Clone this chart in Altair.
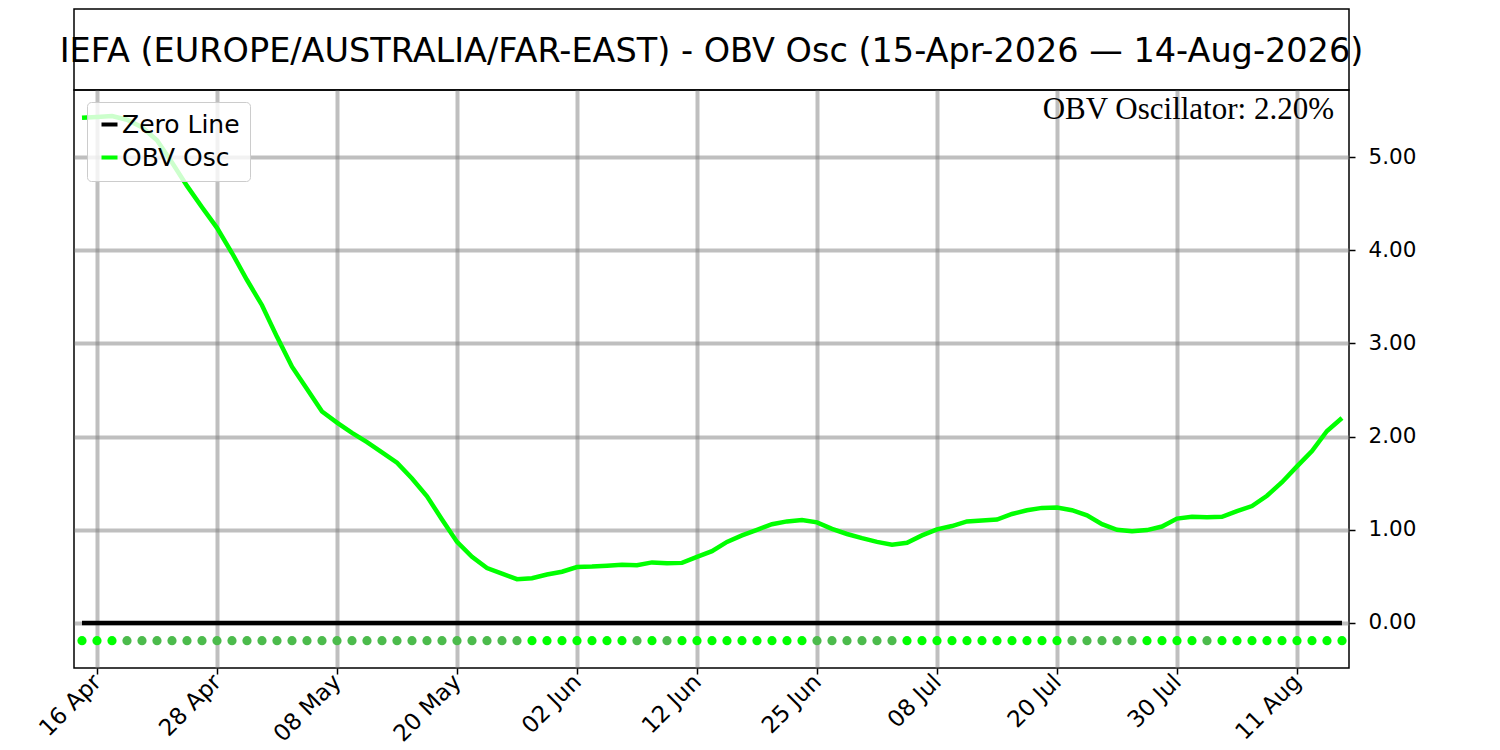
import altair as alt
import pandas as pd

# ---- data ----
dates = [
    "15 Apr", "16 Apr", "17 Apr", "20 Apr", "21 Apr", "22 Apr", "23 Apr", "24 Apr", "27 Apr", "28 Apr",
    "29 Apr", "30 Apr", "01 May", "04 May", "05 May", "06 May", "07 May", "08 May", "11 May", "12 May",
    "13 May", "14 May", "15 May", "18 May", "19 May", "20 May", "21 May", "22 May", "26 May", "27 May",
    "28 May", "29 May", "01 Jun", "02 Jun", "03 Jun", "04 Jun", "05 Jun", "08 Jun", "09 Jun", "10 Jun",
    "11 Jun", "12 Jun", "15 Jun", "16 Jun", "17 Jun", "18 Jun", "22 Jun", "23 Jun", "24 Jun", "25 Jun",
    "26 Jun", "29 Jun", "30 Jun", "01 Jul", "02 Jul", "06 Jul", "07 Jul", "08 Jul", "09 Jul", "10 Jul",
    "13 Jul", "14 Jul", "15 Jul", "16 Jul", "17 Jul", "20 Jul", "21 Jul", "22 Jul", "23 Jul", "24 Jul",
    "27 Jul", "28 Jul", "29 Jul", "30 Jul", "31 Jul", "03 Aug", "04 Aug", "05 Aug", "06 Aug", "07 Aug",
    "10 Aug", "11 Aug", "12 Aug", "13 Aug", "14 Aug",
]

obv_osc = [
    5.42, 5.43, 5.44, 5.40, 5.32, 5.18, 4.94, 4.69, 4.46, 4.24,
    3.97, 3.68, 3.41, 3.07, 2.75, 2.51, 2.27, 2.15, 2.04, 1.94,
    1.83, 1.72, 1.55, 1.36, 1.11, 0.87, 0.71, 0.59, 0.53, 0.47,
    0.48, 0.52, 0.55, 0.60, 0.605, 0.615, 0.625, 0.62, 0.65, 0.64,
    0.645, 0.71, 0.77, 0.87, 0.94, 1.00, 1.06, 1.09, 1.105, 1.08,
    1.01, 0.955, 0.91, 0.87, 0.84, 0.86, 0.94, 1.005, 1.04, 1.09,
    1.10, 1.11, 1.17, 1.21, 1.235, 1.24, 1.21, 1.155, 1.06, 1.00,
    0.985, 0.997, 1.035, 1.12, 1.14, 1.135, 1.14, 1.20, 1.255, 1.365,
    1.51, 1.68, 1.845, 2.06, 2.20,
]

# 1 = bright green dot (rising), 0 = darker green dot (falling)
dot_up = [
    1, 1, 1, 0, 0, 0, 0, 0, 0, 0,
    0, 0, 0, 0, 0, 0, 0, 0, 0, 0,
    0, 0, 0, 0, 0, 0, 0, 0, 0, 0,
    1, 1, 1, 1, 1, 1, 1, 0, 1, 0,
    1, 1, 1, 1, 1, 1, 1, 1, 1, 0,
    0, 0, 0, 0, 0, 1, 1, 1, 1, 1,
    1, 1, 1, 1, 1, 1, 0, 0, 0, 0,
    0, 1, 1, 1, 1, 0, 1, 1, 1, 1,
    1, 1, 1, 1, 1,
]

tick_idx = [1, 9, 17, 25, 33, 41, 49, 57, 65, 73, 81]
y_ticks = [0, 1, 2, 3, 4, 5]
dot_level = -0.19
series_names = ["Zero Line", "OBV Osc"]
series_colors = ["black", "#00ff00"]
title_text = "IEFA (EUROPE/AUSTRALIA/FAR-EAST) - OBV Osc (15-Apr-2026 \u2014 14-Aug-2026)"

n = len(obv_osc)
idx = list(range(n))
lines_df = pd.concat([
    pd.DataFrame({"i": idx, "v": [0.0] * n, "series": series_names[0], "ord": 0}),
    pd.DataFrame({"i": idx, "v": obv_osc, "series": series_names[1], "ord": 1}),
])
dots_df = pd.DataFrame({"i": idx, "v": [dot_level] * n, "up": dot_up})

W, H = 1275, 578
TITLE_H = 81

xscale = alt.Scale(domain=[-0.533, 84.467], nice=False, zero=False)
yscale = alt.Scale(domain=[-0.483, 5.719], nice=False, zero=False)

label_expr = "[" + ",".join("'%s'" % d for d in dates) + "][datum.value]"

grid_kw = dict(grid=True, gridColor="#808080", gridOpacity=0.5, gridWidth=4)
x_axis = alt.Axis(values=tick_idx, labelExpr=label_expr, labelAngle=315, labelAlign="right",
                  labelBaseline="middle", labelFontSize=23, labelFont="DejaVu Sans",
                  labelColor="black", tickColor="black", tickSize=6, tickWidth=1.5,
                  domain=False, title=None, labelPadding=4, labelOverlap=False, **grid_kw)
y_axis = alt.Axis(orient="right", values=y_ticks, format=".2f", labelFontSize=21.5,
                  labelFont="DejaVu Sans", labelColor="black", tickColor="black", tickSize=6,
                  tickWidth=1.5, domain=False, title=None, labelPadding=13, **grid_kw)

legend = alt.Legend(title=None, orient="none", legendX=13, legendY=12 + TITLE_H, symbolType="stroke",
                    symbolStrokeWidth=4, symbolSize=256, labelFontSize=25, labelFont="DejaVu Sans",
                    labelColor="black", fillColor="rgba(255,255,255,0.8)", strokeColor="#cccccc",
                    cornerRadius=4, padding=10, rowPadding=7, labelOffset=0)

lines = alt.Chart(lines_df).mark_line(strokeWidth=4.5).encode(
    x=alt.X("i:Q", scale=xscale, axis=x_axis),
    y=alt.Y("v:Q", scale=yscale, axis=y_axis),
    color=alt.Color("series:N", scale=alt.Scale(domain=series_names, range=series_colors),
                    legend=legend, sort=series_names),
    order=alt.Order("ord:Q"),
)

dots = alt.Chart(dots_df).mark_circle(size=85, opacity=1).encode(
    x=alt.X("i:Q", scale=xscale, axis=x_axis),
    y=alt.Y("v:Q", scale=yscale, axis=y_axis),
    color=alt.when(alt.datum.up == 1).then(alt.value("#00ff00")).otherwise(alt.value("#4cbb4c")),
)

ann = alt.Chart(pd.DataFrame({"t": ["OBV Oscillator: %.2f%%" % obv_osc[-1]]})).mark_text(
    font="Liberation Serif", fontSize=31, align="right", baseline="alphabetic", color="black"
).encode(x=alt.value(1260), y=alt.value(29), text="t:N")

main = alt.layer(lines, dots, ann).properties(width=W, height=H)

title_panel = alt.Chart(pd.DataFrame({"t": [title_text]})).mark_text(
    font="DejaVu Sans", fontSize=33.5, color="black", align="center", baseline="middle"
).encode(x=alt.value(W / 2), y=alt.value(TITLE_H / 2 + 2), text="t:N").properties(width=W, height=TITLE_H)

chart = alt.vconcat(title_panel, main, spacing=0, bounds="flush").properties(
    padding={"left": 26, "top": 0, "right": 5, "bottom": 5},
    background="white",
).configure_view(stroke="black", strokeWidth=1.5)

chart.save("out.html", embed_options={"renderer": "svg", "actions": False})
